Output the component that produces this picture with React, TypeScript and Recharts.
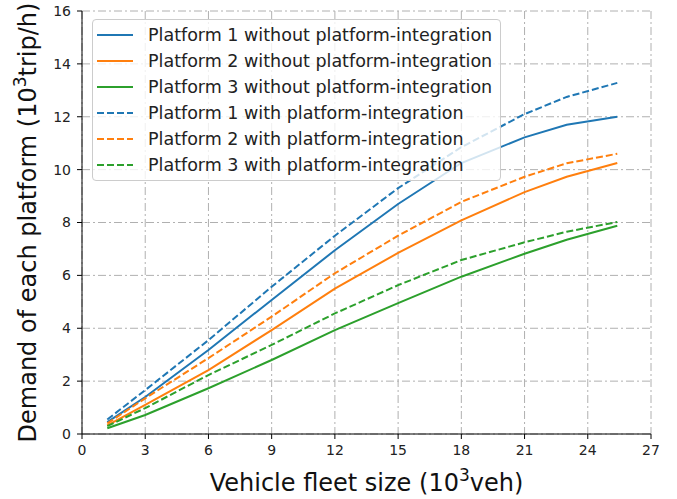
import { LineChart, Line, XAxis, YAxis, CartesianGrid, Legend } from 'recharts';

// fleet size (10^3 veh)
const fleet = [1.2, 3, 6, 9, 12, 15, 18, 21, 23, 25.4];

// demand (10^3 trip/h)
const p1Without = [0.45, 1.4, 3.18, 5.07, 6.95, 8.7, 10.25, 11.22, 11.7, 12.0];
const p2Without = [0.33, 1.1, 2.42, 3.93, 5.5, 6.85, 8.08, 9.15, 9.73, 10.25];
const p3Without = [0.22, 0.72, 1.73, 2.8, 3.93, 4.95, 5.95, 6.82, 7.35, 7.88];
const p1With = [0.55, 1.66, 3.55, 5.57, 7.5, 9.3, 10.85, 12.1, 12.75, 13.28];
const p2With = [0.4, 1.35, 2.87, 4.44, 6.08, 7.5, 8.78, 9.73, 10.24, 10.6];
const p3With = [0.3, 0.98, 2.23, 3.37, 4.56, 5.63, 6.58, 7.25, 7.65, 8.02];

const xTicks = [0, 3, 6, 9, 12, 15, 18, 21, 24, 27];
const yTicks = [0, 2, 4, 6, 8, 10, 12, 14, 16];

const SERIES = [
    { key: 'p1Without', name: 'Platform 1 without platform-integration', color: '#1f77b4', dashed: false },
    { key: 'p2Without', name: 'Platform 2 without platform-integration', color: '#ff7f0e', dashed: false },
    { key: 'p3Without', name: 'Platform 3 without platform-integration', color: '#2ca02c', dashed: false },
    { key: 'p1With', name: 'Platform 1 with platform-integration', color: '#1f77b4', dashed: true },
    { key: 'p2With', name: 'Platform 2 with platform-integration', color: '#ff7f0e', dashed: true },
    { key: 'p3With', name: 'Platform 3 with platform-integration', color: '#2ca02c', dashed: true },
];

const data = fleet.map((f, i) => ({
    fleet: f,
    p1Without: p1Without[i],
    p2Without: p2Without[i],
    p3Without: p3Without[i],
    p1With: p1With[i],
    p2With: p2With[i],
    p3With: p3With[i],
}));

const FONT = '"DejaVu Sans", sans-serif';
const DASH = '7 3';

const renderLegend = () => (
    <div style={{
        background: 'rgba(255,255,255,0.8)',
        border: '1px solid #cccccc',
        borderRadius: 4,
        padding: '2px 8px 2px 4px',
        fontFamily: FONT,
        fontSize: 17.5,
        color: '#222',
    }}>
        {SERIES.map(s => (
            <div key={s.key} style={{ display: 'flex', alignItems: 'center', height: 26 }}>
                <svg width={36} height={4} style={{ marginRight: 15 }}>
                    <line x1={0} y1={2} x2={36} y2={2} stroke={s.color} strokeWidth={2}
                        strokeDasharray={s.dashed ? DASH : undefined} />
                </svg>
                <span>{s.name}</span>
            </div>
        ))}
    </div>
);

const XTitle = ({ viewBox }: any) => {
    const cx = viewBox.x + viewBox.width / 2;
    const y = viewBox.y + 57;
    return (
        <text x={cx} y={y} textAnchor="middle" fontFamily={FONT} fontSize={24} fill="#111">
            Vehicle fleet size (10<tspan dy={-10} fontSize={17}>3</tspan><tspan dy={10}>veh)</tspan>
        </text>
    );
};

const YTitle = ({ viewBox }: any) => {
    const cx = 36;
    const cy = viewBox.y + viewBox.height / 2;
    return (
        <text x={cx} y={cy} textAnchor="middle" fontFamily={FONT} fontSize={24} fill="#111"
            transform={`rotate(-90, ${cx}, ${cy})`}>
            Demand of each platform (10<tspan dy={-10} fontSize={17}>3</tspan><tspan dy={10}>trip/h)</tspan>
        </text>
    );
};

export default function App() {
    const tick = { fill: '#222', fontSize: 14, fontFamily: FONT };
    return (
        <div style={{ position: 'absolute', left: 0, top: 0, background: '#fff' }}>
            <LineChart width={677} height={499} data={data} margin={{ top: 11, right: 26, bottom: 0, left: 0 }}>
                <CartesianGrid stroke="#b0b0b0" strokeDasharray="8 3 2 3" />
                <XAxis dataKey="fleet" type="number" domain={[0, 27]} ticks={xTicks} interval={0}
                    tick={tick} tickSize={5} tickMargin={6} height={65} stroke="#000" tickLine={{ stroke: '#000' }}
                    label={<XTitle />} />
                <XAxis xAxisId="top" orientation="top" type="number" domain={[0, 27]} height={0}
                    tick={false} tickLine={false} stroke="#000" />
                <YAxis type="number" domain={[0, 16]} ticks={yTicks} interval={0}
                    tick={tick} tickSize={5} tickMargin={6} width={82} stroke="#000" tickLine={{ stroke: '#000' }}
                    label={<YTitle />} />
                <YAxis yAxisId="right" orientation="right" type="number" domain={[0, 16]} width={0}
                    tick={false} tickLine={false} stroke="#000" />
                {SERIES.map(s => (
                    <Line key={s.key} type="linear" dataKey={s.key} name={s.name} stroke={s.color}
                        strokeWidth={2} strokeDasharray={s.dashed ? DASH : undefined}
                        dot={false} activeDot={false} isAnimationActive={false} />
                ))}
                <Legend layout="vertical" align="center" verticalAlign="middle" content={renderLegend}
                    wrapperStyle={{ top: 19, left: 92, width: 'auto', height: 'auto' }} />
            </LineChart>
        </div>
    );
}
